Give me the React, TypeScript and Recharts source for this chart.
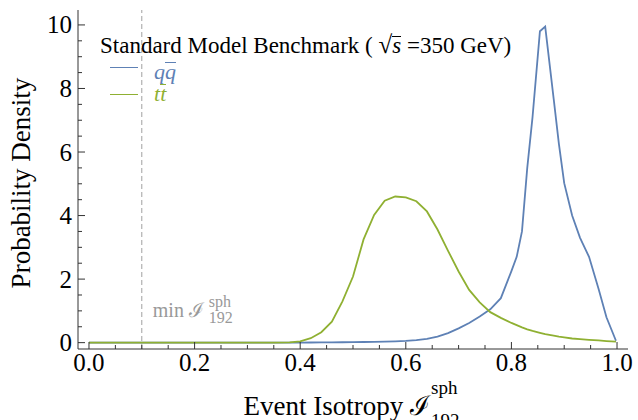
import React from 'react';
import { LineChart, Line, XAxis, YAxis, ReferenceLine, Legend } from 'recharts';

// Event isotropy sample points (shared by both processes)
const isotropy = [
  0, 0.05, 0.1, 0.15, 0.2, 0.25, 0.3, 0.35, 0.38, 0.4,
  0.42, 0.44, 0.46, 0.48, 0.5, 0.52, 0.54, 0.56, 0.58, 0.6,
  0.62, 0.64, 0.66, 0.68, 0.7, 0.72, 0.74, 0.76, 0.78, 0.8,
  0.81, 0.82, 0.83, 0.84, 0.854, 0.864, 0.88, 0.89, 0.9, 0.915,
  0.93, 0.947, 0.965, 0.98, 0.998,
];

// Probability density for q qbar events
const qqbar = [
  0, 0, 0, 0, 0, 0, 0, 0, 0, 0.002,
  0.005, 0.008, 0.01, 0.012, 0.015, 0.02, 0.025, 0.03, 0.04, 0.055,
  0.08, 0.12, 0.19, 0.3, 0.45, 0.62, 0.82, 1.05, 1.4, 2.25,
  2.7, 3.5, 5.5, 7.1, 9.8, 9.95, 7.68, 6.25, 5.02, 4.0,
  3.3, 2.7, 1.7, 0.8, 0.06,
];

// Probability density for t tbar events
const ttbar = [
  0, 0, 0, 0, 0, 0, 0, 0, 0.01, 0.04,
  0.14, 0.33, 0.66, 1.3, 2.08, 3.25, 4.02, 4.47, 4.6, 4.57,
  4.45, 4.13, 3.56, 2.89, 2.24, 1.66, 1.27, 0.96, 0.78, 0.62,
  0.55, 0.48, 0.42, 0.37, 0.31, 0.27, 0.22, 0.19, 0.165, 0.13,
  0.11, 0.09, 0.07, 0.05, 0.03,
];

const xTicks = [
  0, 0.05, 0.1, 0.15, 0.2, 0.25, 0.3, 0.35, 0.4, 0.45, 0.5,
  0.55, 0.6, 0.65, 0.7, 0.75, 0.8, 0.85, 0.9, 0.95, 1,
];
const xMajor = [0, 0.2, 0.4, 0.6, 0.8, 1];
const yTicks = [
  0, 0.5, 1, 1.5, 2, 2.5, 3, 3.5, 4, 4.5, 5,
  5.5, 6, 6.5, 7, 7.5, 8, 8.5, 9, 9.5, 10,
];
const yMajor = [0, 2, 4, 6, 8, 10];
const minIsotropy = 0.1;

const BLUE = '#5E81B5';
const GREEN = '#8FB032';
const FRAME = '#333333';
const SERIF = '"Liberation Serif", "Times New Roman", serif';
const SCRIPT_FONT = '"DejaVu Serif", serif';

// plot frame edges (chart margins + axis sizes)
const FRAME_LEFT = 78;
const FRAME_RIGHT = 628;
const FRAME_TOP = 10;
const FRAME_BOTTOM = 349;

const rows = isotropy.map((x, i) => ({ x, qq: qqbar[i], tt: ttbar[i] }));

const isMajor = (list: number[], v: number) => list.some((m) => Math.abs(m - v) < 1e-9);
const along = (props: any, key: 'x' | 'y') =>
  props.payload && typeof props.payload.coordinate === 'number' ? props.payload.coordinate : props[key];

const BottomTick = (props: any) => {
  const x = along(props, 'x');
  const y = FRAME_BOTTOM;
  const major = isMajor(xMajor, props.payload.value);
  return (
    <g>
      <line x1={x} y1={y} x2={x} y2={y - (major ? 7 : 4)} stroke={FRAME} strokeWidth={1} />
      {major && (
        <text x={x} y={y + 22} textAnchor="middle" fontFamily={SERIF} fontSize={25} fill="#000">
          {Number(props.payload.value).toFixed(1)}
        </text>
      )}
    </g>
  );
};

const TopTick = (props: any) => {
  const x = along(props, 'x');
  const major = isMajor(xMajor, props.payload.value);
  return <line x1={x} y1={FRAME_TOP} x2={x} y2={FRAME_TOP + (major ? 7 : 4)} stroke={FRAME} strokeWidth={1} />;
};

const LeftTick = (props: any) => {
  const y = along(props, 'y');
  const x = FRAME_LEFT;
  const major = isMajor(yMajor, props.payload.value);
  return (
    <g>
      <line x1={x} y1={y} x2={x + (major ? 7 : 4)} y2={y} stroke={FRAME} strokeWidth={1} />
      {major && (
        <text x={x - 6} y={y + 8.5} textAnchor="end" fontFamily={SERIF} fontSize={25} fill="#000">
          {String(props.payload.value)}
        </text>
      )}
    </g>
  );
};

const RightTick = (props: any) => {
  const y = along(props, 'y');
  const major = isMajor(yMajor, props.payload.value);
  return <line x1={FRAME_RIGHT} y1={y} x2={FRAME_RIGHT - (major ? 7 : 4)} y2={y} stroke={FRAME} strokeWidth={1} />;
};

const XTitle = () => {
  const ex = 430;
  const base = 415;
  return (
    <g fontFamily={SERIF} fill="#000">
      <text x={ex} y={base} textAnchor="end" fontSize={27}>
        Event Isotropy <tspan fontFamily={SCRIPT_FONT}>ℐ</tspan>
      </text>
      <text x={ex + 1} y={base - 21} fontSize={19}>sph</text>
      <text x={ex + 1} y={base + 12} fontSize={19}>192</text>
    </g>
  );
};

const YTitle = () => {
  const cx = 30;
  const cy = 183;
  return (
    <text
      x={cx}
      y={cy}
      textAnchor="middle"
      transform={`rotate(-90, ${cx}, ${cy})`}
      fontFamily={SERIF}
      fontSize={27}
      fill="#000"
    >
      Probability Density
    </text>
  );
};

const MinLabel = (props: any) => {
  const vb = props.viewBox || { x: 142, y: 10, height: 339 };
  const sx = vb.x + 11;
  const base = vb.y + vb.height - 32;
  return (
    <g fontFamily={SERIF} fill="#999999">
      <text x={sx} y={base} fontSize={20}>
        min <tspan fontFamily={SCRIPT_FONT}>ℐ</tspan>
      </text>
      <text x={sx + 56} y={base - 10} fontSize={16}>sph</text>
      <text x={sx + 56} y={base + 6} fontSize={16}>192</text>
    </g>
  );
};

const Bar = ({ children }: { children: React.ReactNode }) => (
  <span style={{ display: 'inline-block', lineHeight: '18px', borderTop: '1.2px solid currentColor' }}>{children}</span>
);

const LegendBox = () => (
  <div style={{ position: 'relative', width: 430, height: 85, fontFamily: SERIF, whiteSpace: 'nowrap' }}>
    <div style={{ position: 'absolute', left: 4, top: 5, fontSize: 23, lineHeight: '23px', color: '#000' }}>
      Standard Model Benchmark ( <span style={{ fontSize: 25 }}>√</span>
      <Bar>
        <span style={{ fontStyle: 'italic' }}>s</span>
      </Bar>{' '}
      =350 GeV)
    </div>
    <div style={{ position: 'absolute', left: 14, top: 38.5, width: 28, borderTop: `1.8px solid ${BLUE}` }} />
    <div style={{ position: 'absolute', left: 58, top: 33, fontSize: 22, lineHeight: '22px', color: BLUE, fontStyle: 'italic' }}>
      q<Bar>q</Bar>
    </div>
    <div style={{ position: 'absolute', left: 14, top: 65.5, width: 28, borderTop: `1.8px solid ${GREEN}` }} />
    <div style={{ position: 'absolute', left: 58, top: 55, fontSize: 22, lineHeight: '22px', color: GREEN, fontStyle: 'italic' }}>
      t<Bar>t</Bar>
    </div>
  </div>
);

export default function App() {
  return (
    <div style={{ position: 'absolute', left: 0, top: 0, background: '#fff' }}>
      <LineChart width={638} height={420} data={rows} margin={{ top: 10, right: 10, left: 0, bottom: 0 }}>
        <XAxis
          dataKey="x"
          type="number"
          domain={[-0.0208, 1.0208]}
          ticks={xTicks}
          interval={0}
          tickSize={0}
          tickMargin={0}
          height={71}
          tick={BottomTick}
          tickLine={false}
          axisLine={{ stroke: FRAME }}
          label={<XTitle />}
        />
        <XAxis
          xAxisId="top"
          orientation="top"
          dataKey="x"
          type="number"
          domain={[-0.0208, 1.0208]}
          ticks={xTicks}
          interval={0}
          tickSize={0}
          tickMargin={0}
          height={0}
          tick={TopTick}
          tickLine={false}
          axisLine={{ stroke: FRAME }}
        />
        <YAxis
          type="number"
          domain={[-0.2, 10.47]}
          ticks={yTicks}
          interval={0}
          tickSize={0}
          tickMargin={0}
          width={78}
          tick={LeftTick}
          tickLine={false}
          axisLine={{ stroke: FRAME }}
          label={<YTitle />}
        />
        <YAxis
          yAxisId="right"
          orientation="right"
          type="number"
          domain={[-0.2, 10.47]}
          ticks={yTicks}
          interval={0}
          tickSize={0}
          tickMargin={0}
          width={0}
          tick={RightTick}
          tickLine={false}
          axisLine={{ stroke: FRAME }}
        />
        <ReferenceLine
          x={minIsotropy}
          stroke="#A0A0A0"
          strokeWidth={1}
          strokeDasharray="5 3"
          label={<MinLabel />}
        />
        <Line dataKey="qq" type="linear" stroke={BLUE} strokeWidth={1.8} dot={false} isAnimationActive={false} />
        <Line dataKey="tt" type="linear" stroke={GREEN} strokeWidth={1.8} dot={false} isAnimationActive={false} />
        <Legend
          verticalAlign="middle"
          align="center"
          layout="horizontal"
          wrapperStyle={{ position: 'absolute', left: 96, top: 28, width: 430, height: 85 }}
          content={() => <LegendBox />}
        />
      </LineChart>
    </div>
  );
}
